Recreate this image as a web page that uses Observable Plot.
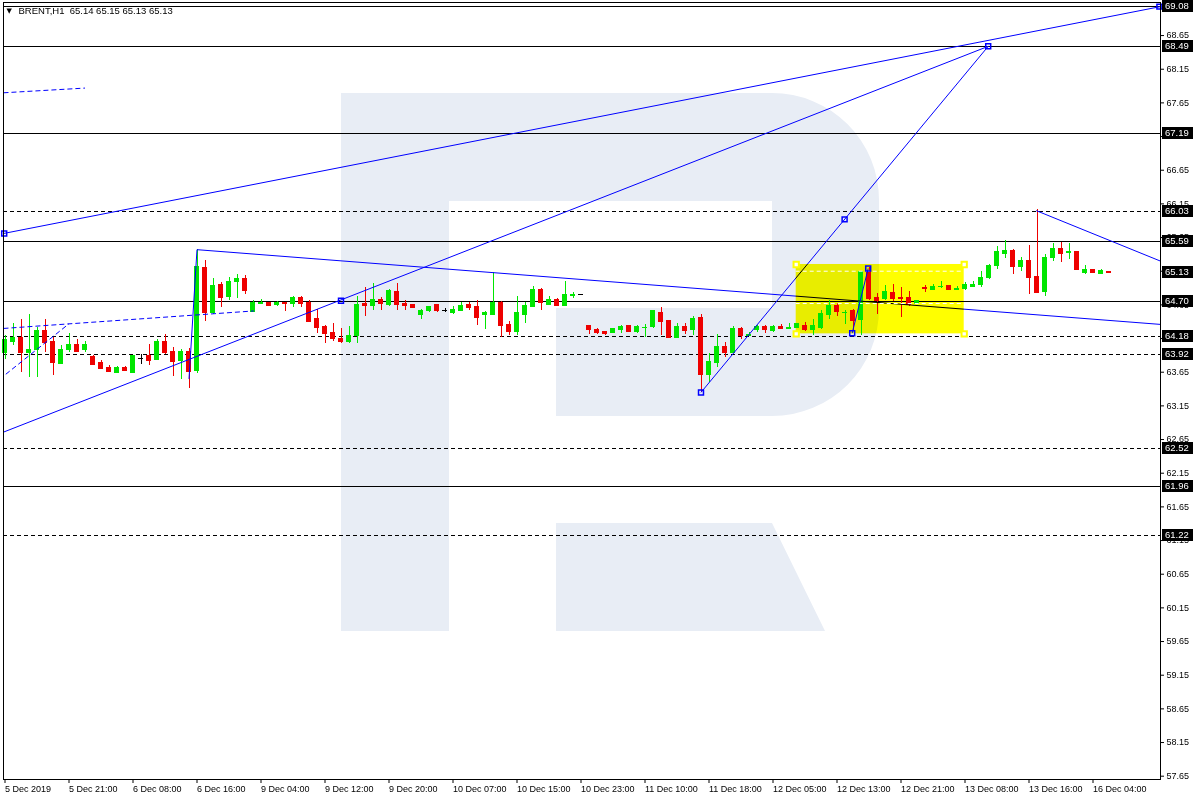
<!DOCTYPE html>
<html><head><meta charset="utf-8">
<script src="https://cdn.jsdelivr.net/npm/d3@7"></script>
<script src="https://cdn.jsdelivr.net/npm/@observablehq/plot@0.6"></script>
<style>html,body{margin:0;padding:0;background:#fff;}</style>
</head><body><div id="chart"></div>
<script>
// ---- data ----
const opens = [63.95,64.10,64.16,63.95,63.99,64.27,64.10,63.78,63.98,64.06,63.98,63.89,63.80,63.72,63.65,63.72,63.65,63.85,63.90,63.84,
64.10,63.96,63.82,63.96,63.68,65.21,64.54,64.96,64.78,65.00,65.04,64.55,64.67,64.68,64.66,64.69,64.67,64.76,64.69,64.45,
64.33,64.24,64.15,64.10,64.19,64.67,64.64,64.73,64.65,64.85,64.67,64.65,64.51,64.56,64.65,64.57,64.54,64.57,64.66,64.62,
64.50,64.51,64.68,64.36,64.26,64.50,64.62,64.88,64.66,64.73,64.64,64.79,64.80,64.34,64.29,64.26,64.24,64.28,64.35,64.26,
64.31,64.33,64.54,64.42,64.17,64.33,64.28,64.46,63.62,63.80,64.03,63.94,64.30,64.20,64.28,64.33,64.27,64.33,64.30,64.32,
64.35,64.29,64.31,64.51,64.64,64.53,64.56,64.44,65.14,64.76,64.75,64.83,64.76,64.76,64.67,64.91,64.88,64.92,64.94,64.88,
64.89,64.93,64.96,65.05,65.23,65.41,65.46,65.22,65.31,65.07,64.85,65.36,65.49,65.43,65.44,65.13,65.18,65.12,65.14];
const highs = [64.19,64.37,64.44,64.51,64.32,64.44,64.17,64.05,64.23,64.14,64.11,63.90,63.82,63.75,63.73,63.73,63.90,63.91,64.06,64.14,
64.21,64.02,63.98,64.00,65.47,65.31,65.04,64.98,65.05,65.10,65.08,64.71,64.73,64.69,64.70,64.69,64.78,64.78,64.71,64.58,
64.35,64.38,64.30,64.33,64.78,64.91,64.97,64.76,64.88,64.97,64.71,64.65,64.58,64.63,64.65,64.60,64.63,64.69,64.68,64.71,
64.55,65.13,64.70,64.40,64.77,64.69,64.93,64.89,64.78,64.75,64.99,64.84,64.80,64.35,64.30,64.26,64.30,64.35,64.35,64.35,
64.36,64.56,64.61,64.42,64.37,64.38,64.48,64.51,63.93,64.21,64.09,64.33,64.31,64.24,64.35,64.35,64.35,64.36,64.37,64.37,
64.39,64.44,64.57,64.72,64.67,64.57,64.58,65.14,65.21,64.82,64.94,64.95,64.91,64.85,64.72,64.94,64.96,64.99,64.94,64.92,
64.98,64.99,65.15,65.25,65.51,65.60,65.47,65.35,65.53,66.06,65.40,65.56,65.57,65.56,65.44,65.23,65.18,65.18,65.15];
const lows = [63.84,64.05,63.65,63.57,63.57,63.95,63.60,63.77,63.95,63.95,63.95,63.77,63.69,63.65,63.64,63.66,63.65,63.77,63.75,63.83,
63.92,63.58,63.54,63.41,63.63,64.41,64.50,64.61,64.72,64.75,64.81,64.55,64.65,64.62,64.63,64.55,64.61,64.61,64.41,64.23,
64.08,64.11,64.08,64.08,64.08,64.48,64.56,64.57,64.62,64.57,64.57,64.61,64.44,64.54,64.54,64.54,64.51,64.57,64.56,64.35,
64.29,64.49,64.17,64.19,64.19,64.37,64.62,64.57,64.64,64.62,64.62,64.75,64.80,64.21,64.21,64.20,64.23,64.23,64.25,64.23,
64.17,64.30,64.19,64.16,64.16,64.21,64.19,63.35,63.50,63.72,63.87,63.93,64.13,64.19,64.24,64.23,64.24,64.28,64.30,64.32,
64.26,64.20,64.29,64.44,64.48,64.36,64.26,64.20,64.72,64.51,64.72,64.70,64.47,64.63,64.66,64.83,64.86,64.89,64.88,64.86,
64.87,64.91,64.91,65.03,65.18,65.34,65.10,65.15,64.80,64.84,64.78,65.30,65.28,65.32,65.17,65.10,65.12,65.12,65.13];
const closes = [64.13,64.16,63.94,63.99,64.27,64.09,63.80,63.98,64.06,63.96,64.06,63.77,63.71,63.66,63.72,63.67,63.90,63.85,63.83,64.10,
63.94,63.81,63.96,63.66,65.22,64.53,64.94,64.76,65.00,65.04,64.87,64.68,64.69,64.64,64.68,64.67,64.76,64.67,64.41,64.32,
64.23,64.15,64.10,64.19,64.66,64.64,64.73,64.67,64.87,64.65,64.64,64.61,64.56,64.62,64.57,64.57,64.58,64.64,64.61,64.47,
64.53,64.69,64.35,64.26,64.53,64.64,64.88,64.68,64.73,64.64,64.80,64.80,64.80,64.28,64.24,64.23,64.30,64.33,64.25,64.33,
64.32,64.56,64.41,64.17,64.33,64.27,64.45,63.62,63.81,64.03,63.94,64.30,64.19,64.21,64.33,64.28,64.33,64.30,64.32,64.37,
64.29,64.34,64.52,64.64,64.55,64.54,64.42,65.14,64.74,64.72,64.85,64.75,64.74,64.66,64.72,64.90,64.92,64.93,64.88,64.90,
64.95,64.96,65.06,65.23,65.44,65.46,65.22,65.31,65.06,64.84,65.35,65.48,65.41,65.44,65.18,65.18,65.13,65.16,65.13];

const xTickIndex = [0,8,16,24,32,40,48,56,64,72,80,88,96,104,112,120,128,136];
const xTickLabels = ["5 Dec 2019","5 Dec 21:00","6 Dec 08:00","6 Dec 16:00","9 Dec 04:00","9 Dec 12:00","9 Dec 20:00",
  "10 Dec 07:00","10 Dec 15:00","10 Dec 23:00","11 Dec 10:00","11 Dec 18:00","12 Dec 05:00","12 Dec 13:00",
  "12 Dec 21:00","13 Dec 08:00","13 Dec 16:00","16 Dec 04:00"];
const yTicks = [57.65,58.15,58.65,59.15,59.65,60.15,60.65,61.15,61.65,62.15,62.65,63.15,63.65,64.15,64.65,65.15,65.65,66.15,66.65,67.15,67.65,68.15,68.65];

const solidLevels = [69.08,68.49,67.19,65.59,64.70,61.96];
const dashedLevels = [66.03,64.18,63.92,62.52,61.22];
const labelLevels = [69.08,68.49,67.19,66.03,65.59,65.13,64.70,64.18,63.92,62.52,61.96,61.22];

// trend lines: [bar1, price1, bar2, price2]
const trendSolid = [
  [-0.19,65.71,144.44,69.08],
  [-0.19,62.76,122.9,68.49],
  [87,63.35,122.9,68.49],
  [23,63.55,24,65.47],
  [24,65.47,144.44,64.36],
  [128.9,66.05,144.44,65.30]
];
const trendDashed = [
  [-0.19,64.30,31.1,64.56],
  [0.1,63.62,8,64.37],
  [-0.19,67.80,10,67.87]
];
const trendTop = [[105.9,64.23,107.9,65.19]];
const anchorPoints = [[-0.1,65.71],[42,64.71],[87,63.35],[104.95,65.92],[122.9,68.49],[105.9,64.23],[107.9,65.19],[144.3,69.08]];
const boxZone = [[98.9,64.22,119.9,65.25]];
const boxInnerLines = [65.15,64.67];
const header = "BRENT,H1\u00a0\u00a065.14 65.15 65.13 65.13";

// ---- build ----
const candles = opens.map((o,i)=>({i,o,h:highs[i],l:lows[i],c:closes[i]}));
const col = d => d.c > d.o ? "#00e600" : d.c < d.o ? "#ee0000" : "#000000";
const half = 0.3125;
const boxCorners = boxZone.flatMap(b => [[b[0],b[1]],[b[2],b[1]],[b[0],b[3]],[b[2],b[3]]]);

function logo(index, scales, values, dims) {
  const g = d3.create("svg:g");
  g.append("path")
    .attr("d","M341,93H772A107,107 0 0 1 879,200V309A107,107 0 0 1 772,416H556V308H772V201H449V631H341Z M556,523H772L825,631H556Z")
    .attr("fill","#e8edf5");
  return g.node();
}
function labelBoxes(index, scales, values, dims) {
  const g = d3.create("svg:g").attr("text-anchor", "start");
  const x0 = dims.width - dims.marginRight + 2;
  for (const v of labelLevels) {
    const y = Math.round(scales.y(v));
    g.append("rect").attr("x", x0).attr("y", y - 6).attr("width", 31).attr("height", 12).attr("fill", "#000");
    g.append("text").attr("x", x0 + 3).attr("y", y).attr("dy", "0.36em").attr("text-anchor", "start")
      .attr("fill", "#fff").attr("font-size", 9.5).text(v.toFixed(2));
  }
  return g.node();
}

const chart = Plot.plot({
  width: 1200, height: 800,
  marginLeft: 3, marginRight: 40, marginTop: 2, marginBottom: 21,
  x: {type: "linear", domain: [-0.1875, 144.4375]},
  y: {type: "linear", domain: [57.601, 69.141]},
  style: {fontFamily: "Liberation Sans, Arial, sans-serif", fontSize: "9px", background: "#fff", color: "#000", overflow: "visible"},
  marks: [
    logo,
    Plot.ruleY(solidLevels, {y: d => d, stroke: "#000", shapeRendering: "crispEdges"}),
    Plot.ruleY(dashedLevels, {y: d => d, stroke: "#000", strokeDasharray: "4,3", shapeRendering: "crispEdges"}),
    Plot.ruleX(candles, {x: "i", y1: "l", y2: "h", stroke: col, shapeRendering: "crispEdges"}),
    Plot.rect(candles, {x1: d => d.i - half, x2: d => d.i + half, y1: d => Math.min(d.o, d.c), y2: d => Math.max(d.o, d.c), fill: col, shapeRendering: "crispEdges"}),
    Plot.ruleY(candles, {y: "o", x1: d => d.i - half, x2: d => d.i + half, stroke: col, shapeRendering: "crispEdges"}),
    Plot.ruleY(candles, {y: "c", x1: d => d.i - half, x2: d => d.i + half, stroke: col, shapeRendering: "crispEdges"}),
    Plot.link(trendDashed, {x1: d => d[0], y1: d => d[1], x2: d => d[2], y2: d => d[3], stroke: "#0000ff", strokeDasharray: "5,3"}),
    Plot.link(trendSolid, {x1: d => d[0], y1: d => d[1], x2: d => d[2], y2: d => d[3], stroke: "#0000ff"}),
    Plot.rect(boxZone, {x1: d => d[0], y1: d => d[1], x2: d => d[2], y2: d => d[3], fill: "#ffff00", mixBlendMode: "multiply"}),
    Plot.ruleY(boxInnerLines, {y: d => d, x1: boxZone[0][0], x2: boxZone[0][2], stroke: "#fff", strokeDasharray: "4,3"}),
    Plot.link(trendTop, {x1: d => d[0], y1: d => d[1], x2: d => d[2], y2: d => d[3], stroke: "#0000ff"}),
    Plot.dot(boxCorners, {x: d => d[0], y: d => d[1], symbol: "square", r: 3, stroke: "#ffff00", strokeWidth: 2, fill: "#fff"}),
    Plot.dot(anchorPoints, {x: d => d[0], y: d => d[1], symbol: "square", r: 2.8, stroke: "#0000ff", fill: "none"}),
    Plot.frame({stroke: "#000", shapeRendering: "crispEdges"}),
    Plot.axisY({anchor: "right", ticks: yTicks, tickFormat: d => d.toFixed(2), tickSize: 3, tickPadding: 3, fontSize: 9, label: null}),
    Plot.axisX({anchor: "bottom", ticks: xTickIndex, tickFormat: d => xTickLabels[xTickIndex.indexOf(d)], textAnchor: "start", tickSize: 4, tickPadding: 2, fontSize: 9, label: null}),
    labelBoxes,
    Plot.text(["\u25BC"], {text: d => d, frameAnchor: "top-left", dx: 3, dy: 6, textAnchor: "start", lineAnchor: "top", fontSize: 7, fontFamily: "DejaVu Sans"}),
    Plot.text([header], {text: d => d, frameAnchor: "top-left", dx: 15, dy: 5, textAnchor: "start", lineAnchor: "top", fontSize: 9.5})
  ]
});
document.getElementById("chart").appendChild(chart);
</script>
</body></html>
